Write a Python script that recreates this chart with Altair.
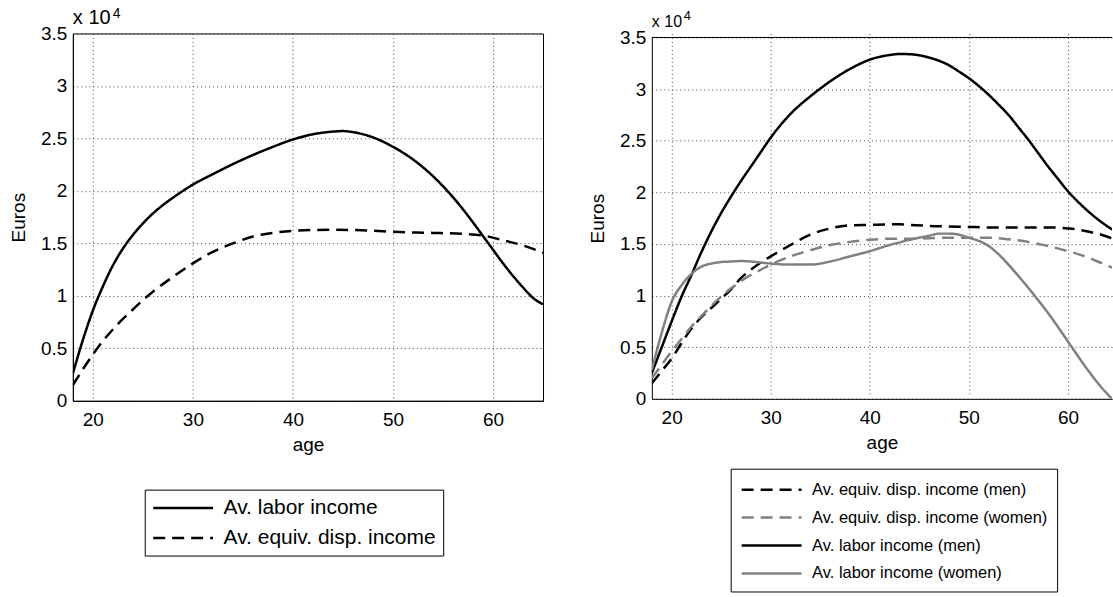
import altair as alt
import pandas as pd

FONT = "Liberation Sans"

# ---------------- left panel data (Euros) ----------------
L_AGE_LABOR = [18, 19, 20, 21, 22, 23, 24, 25, 26, 27, 28, 30, 32, 35, 38, 40, 42, 44, 45, 46,
               48, 50, 52, 54, 56, 58, 59, 60, 61, 62, 63, 64, 65]
L_LABOR = [2600, 5800, 8600, 10900, 12900, 14500, 15800, 16900, 17850, 18650, 19350, 20600,
           21600, 23000, 24200, 24900, 25400, 25650, 25700, 25600, 25100, 24200, 23000, 21400,
           19400, 17000, 15700, 14400, 13100, 11900, 10800, 9800, 9200]
L_AGE_DISP = [18, 19, 20, 21, 22, 23, 24, 25, 26, 28, 30, 32, 34, 36, 38, 40, 44, 48, 50, 54,
              57, 59, 61, 63, 65]
L_DISP = [1500, 3000, 4400, 5700, 6800, 7800, 8700, 9600, 10400, 11800, 13100, 14200, 15000,
          15650, 16000, 16200, 16300, 16200, 16100, 16000, 15900, 15750, 15300, 14800, 14100]
L_SERIES = ["Av. labor income", "Av. equiv. disp. income"]

# ---------------- right panel data (Euros) ----------------
R_AGE_MEN_LABOR = [18, 19, 20, 21, 22, 23, 24, 25, 26, 27, 28, 29, 30, 32, 34, 35, 36, 38, 40,
                   42, 43, 44, 46, 48, 49, 50, 51, 52, 53, 54, 55, 56, 57, 58, 59, 60, 61, 62,
                   63, 64, 65]
R_MEN_LABOR = [2500, 5000, 7500, 9900, 12000, 14200, 16200, 18000, 19600, 21100, 22500, 23900,
               25300, 27600, 29300, 30050, 30750, 31950, 32850, 33300, 33400, 33380, 33050,
               32300, 31700, 31060, 30300, 29450, 28500, 27500, 26300, 25100, 23800, 22500,
               21300, 20100, 19100, 18200, 17400, 16700, 16100]
R_AGE_MEN_DISP = [18, 19, 20, 21, 22, 23, 24, 25, 26, 27, 28, 29, 30, 32, 34, 36, 38, 40, 42,
                  43, 44, 46, 48, 50, 52, 54, 56, 58, 60, 61, 62, 63, 64, 65]
R_MEN_DISP = [1500, 2700, 3900, 5400, 6800, 7900, 8800, 9700, 10600, 11700, 12500, 13200,
              13800, 14900, 15900, 16500, 16800, 16850, 16900, 16900, 16850, 16750, 16700,
              16650, 16600, 16600, 16600, 16600, 16500, 16400, 16200, 16000, 15700, 15300]
R_AGE_WOMEN_DISP = [18, 19, 20, 21, 22, 23, 24, 25, 26, 27, 28, 29, 30, 32, 34, 36, 38, 40, 42,
                    44, 46, 48, 50, 52, 54, 56, 57, 58, 60, 62, 63, 64, 65]
R_WOMEN_DISP = [2000, 3300, 4600, 5800, 7000, 8000, 9000, 9900, 10700, 11400, 12000, 12500,
                13000, 13800, 14400, 14900, 15200, 15400, 15500, 15500, 15550, 15600, 15600,
                15600, 15450, 15200, 15000, 14800, 14300, 13700, 13300, 12900, 12500]
R_AGE_WOMEN_LABOR = [18, 19, 20, 21, 22, 23, 24, 25, 26, 27, 28, 29, 30, 32, 34, 36, 38, 40,
                     42, 43, 44, 46, 47, 48, 49, 50, 51, 52, 53, 54, 55, 56, 57, 58, 59, 60, 61,
                     62, 63, 64, 65]
R_WOMEN_LABOR = [2800, 6400, 9400, 11000, 12100, 12800, 13100, 13250, 13300, 13350, 13300,
                 13200, 13100, 13000, 13000, 13300, 13800, 14300, 14900, 15150, 15400, 15800,
                 16000, 16000, 15900, 15600, 15300, 14800, 14000, 13000, 11900, 10750, 9550,
                 8300, 6950, 5550, 4150, 2800, 1550, 450, -500]
R_SERIES = ["Av. equiv. disp. income (men)", "Av. equiv. disp. income (women)",
            "Av. labor income (men)", "Av. labor income (women)"]

Y_TICKS = [0, 5000, 10000, 15000, 20000, 25000, 30000, 35000]
X_TICKS = [20, 30, 40, 50, 60]
EXP_BASE = ["x 10"]
EXP_POW = ["4"]

BLACK = "#000000"
GREY = "#808080"
SOLID = [1, 0]
DASH = [12, 7]


def frame(ages, vals, name):
    return pd.DataFrame({"age": ages, "value": vals, "series": name})


left_df = pd.concat([
    frame(L_AGE_LABOR, L_LABOR, L_SERIES[0]),
    frame(L_AGE_DISP, L_DISP, L_SERIES[1]),
], ignore_index=True)

right_df = pd.concat([
    frame(R_AGE_MEN_DISP, R_MEN_DISP, R_SERIES[0]),
    frame(R_AGE_WOMEN_DISP, R_WOMEN_DISP, R_SERIES[1]),
    frame(R_AGE_MEN_LABOR, R_MEN_LABOR, R_SERIES[2]),
    frame(R_AGE_WOMEN_LABOR, R_WOMEN_LABOR, R_SERIES[3]),
], ignore_index=True)

LW, LH = 471, 368
RW, RH = 461, 366
R_XMAX = 18 + RW / 9.925


def y_axis():
    return alt.Axis(values=Y_TICKS, labelExpr="datum.value / 10000 + ''", title="Euros",
                    labelPadding=6, titlePadding=12)


def x_axis():
    return alt.Axis(values=X_TICKS, title="age", labelPadding=10, titlePadding=6)


def legend(x, y, font_size, row_pad, pad):
    return alt.Legend(title=None, orient="none", legendX=x, legendY=y,
                      symbolType="M-3,0H3", symbolSize=400, symbolStrokeWidth=2.5,
                      symbolOffset=20, labelOffset=29,
                      labelFont=FONT, labelFontSize=font_size, labelColor="black",
                      labelLimit=600, rowPadding=row_pad, padding=pad,
                      strokeColor="black", fillColor="white")


def exponent(fs_base, fs_pow, dx_pow, y_base, y_pow):
    base = alt.Chart(pd.DataFrame({"t": EXP_BASE})).mark_text(
        align="left", baseline="alphabetic", font=FONT, fontSize=fs_base, color="black"
    ).encode(text="t:N", x=alt.value(0), y=alt.value(y_base))
    pw = alt.Chart(pd.DataFrame({"t": EXP_POW})).mark_text(
        align="left", baseline="alphabetic", font=FONT, fontSize=fs_pow, color="black"
    ).encode(text="t:N", x=alt.value(dx_pow), y=alt.value(y_pow))
    return base, pw


# ---------------- left panel ----------------
leg_l = legend(72, 457, 21, 8, 7)
lines_l = alt.Chart(left_df).mark_line(strokeWidth=2.5, interpolate="monotone", clip=True).encode(
    x=alt.X("age:Q", scale=alt.Scale(domain=[18, 65], nice=False, zero=False), axis=x_axis()),
    y=alt.Y("value:Q", scale=alt.Scale(domain=[0, 35000], nice=False, zero=False), axis=y_axis()),
    color=alt.Color("series:N", scale=alt.Scale(domain=L_SERIES, range=[BLACK, BLACK]), legend=leg_l),
    strokeDash=alt.StrokeDash("series:N", scale=alt.Scale(domain=L_SERIES, range=[SOLID, DASH]),
                              legend=leg_l),
)
eb_l, ep_l = exponent(20, 14, 40, -9, -16)
left = alt.layer(lines_l, eb_l, ep_l).properties(
    width=LW, height=LH, view=alt.ViewBackground(stroke="black", strokeWidth=1)
)

# ---------------- right panel ----------------
leg_r = legend(79, 436, 16.5, 8, 9.5)
lines_r = alt.Chart(right_df).mark_line(strokeWidth=2.5, interpolate="monotone", clip=True).encode(
    x=alt.X("age:Q", scale=alt.Scale(domain=[18, R_XMAX], nice=False, zero=False), axis=x_axis()),
    y=alt.Y("value:Q", scale=alt.Scale(domain=[0, 35000], nice=False, zero=False, range=[RH, 4]),
            axis=y_axis()),
    color=alt.Color("series:N", scale=alt.Scale(domain=R_SERIES, range=[BLACK, GREY, BLACK, GREY]),
                    legend=leg_r),
    strokeDash=alt.StrokeDash("series:N", scale=alt.Scale(domain=R_SERIES,
                                                          range=[DASH, DASH, SOLID, SOLID]),
                              legend=leg_r),
)
top_rule = alt.Chart(pd.DataFrame({"v": [0]})).mark_rule(color="black", strokeWidth=1).encode(
    y=alt.datum(35000), x=alt.value(0), x2=alt.value(RW)
)
eb_r, ep_r = exponent(16, 13, 32, -6, -13)
right = alt.layer(lines_r, top_rule, eb_r, ep_r).properties(
    width=RW, height=RH, view=alt.ViewBackground(stroke="transparent")
)

chart = alt.hconcat(left, right, spacing=109, bounds="flush").resolve_scale(
    color="independent", strokeDash="independent"
).properties(
    padding={"left": 9, "top": 5, "right": 0, "bottom": 0}
).configure(
    font=FONT,
).configure_axis(
    labelFont=FONT, labelFontSize=19, labelColor="black",
    titleFont=FONT, titleFontSize=19, titleFontWeight="normal", titleColor="black",
    domainColor="black", domainWidth=1, ticks=False,
    grid=True, gridColor="#333333", gridDash=[1, 3], gridWidth=1, gridOpacity=0.9,
).configure_view(stroke="transparent")

chart.save("out.html", embed_options={"renderer": "svg", "actions": False})
